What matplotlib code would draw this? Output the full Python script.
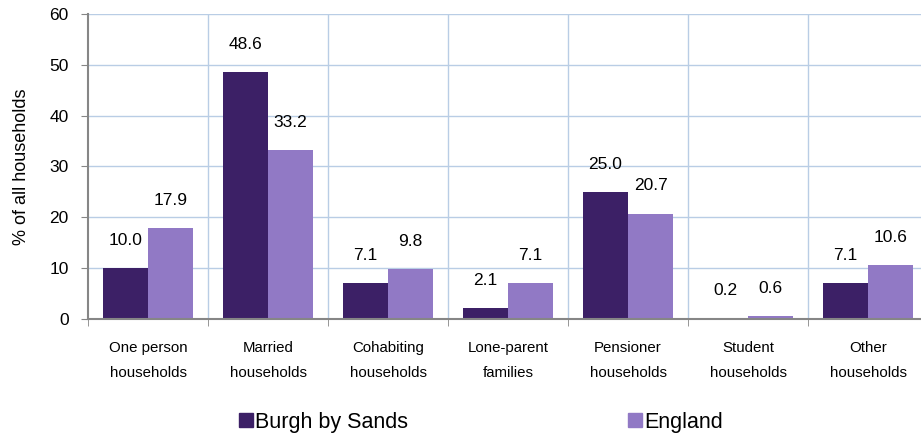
import numpy as np
import matplotlib.pyplot as plt
from matplotlib.patches import Patch

plt.rcParams['font.family'] = ['Liberation Sans', 'DejaVu Sans']

# data
categories = ['One person\nhouseholds', 'Married\nhouseholds', 'Cohabiting\nhouseholds',
              'Lone-parent\nfamilies', 'Pensioner\nhouseholds', 'Student\nhouseholds',
              'Other\nhouseholds']
burgh = [10.0, 48.6, 7.1, 2.1, 25.0, 0.2, 7.1]
england = [17.9, 33.2, 9.8, 7.1, 20.7, 0.6, 10.6]
series_names = ['Burgh by Sands', 'England']
yticks = [0, 10, 20, 30, 40, 50, 60]

dark = '#3C2066'
light = '#9179C5'
grid_c = '#B9CDE5'
axis_c = '#868686'

fig = plt.figure(figsize=(9.21, 4.36), dpi=100)
ax = fig.add_axes([88 / 921, 1 - 319 / 436, 840 / 921, 305 / 436])

x = np.arange(len(categories))
w = 0.375
b1 = ax.bar(x - w / 2, burgh, w, color=dark, zorder=3)
b2 = ax.bar(x + w / 2, england, w, color=light, zorder=3)

for bars, vals in ((b1, burgh), (b2, england)):
    for r, v in zip(bars, vals):
        ax.annotate(f'{v:.1f}', (r.get_x() + r.get_width() / 2, v),
                    xytext=(0, 20), textcoords='offset points',
                    ha='center', va='center', fontsize=12.5, color='#000000')

ax.set_xlim(-0.5, len(categories) - 0.5)
ax.set_ylim(0, 60)
ax.set_yticks(yticks)
ax.set_yticklabels([str(t) for t in yticks], fontsize=12.5)
ax.set_xticks(x)
ax.set_xticklabels(categories, fontsize=10.8, linespacing=1.95)
ax.tick_params(axis='x', length=0, pad=16)
ax.tick_params(axis='y', length=5, color=axis_c, pad=9)

# boundary ticks and vertical grid
bounds = np.arange(len(categories) + 1) - 0.5
ax.set_xticks(bounds, minor=True)
ax.tick_params(axis='x', which='minor', length=5, color=axis_c)
for b in bounds[1:]:
    ax.axvline(b, color=grid_c, lw=1, zorder=1)
for t in yticks[1:]:
    ax.axhline(t, color=grid_c, lw=1, zorder=1)

for s in ['top', 'right']:
    ax.spines[s].set_visible(False)
for s in ['left', 'bottom']:
    ax.spines[s].set_color(axis_c)
    ax.spines[s].set_linewidth(1.5)
    ax.spines[s].set_zorder(4)

ax.set_ylabel('% of all households', fontsize=13, labelpad=14)

handles = [Patch(color=dark), Patch(color=light)]
fig.legend(handles, series_names, loc='center', bbox_to_anchor=(481 / 921, 1 - 422 / 436),
           ncol=2, frameon=False, fontsize=15.5, handlelength=0.65, handleheight=0.65,
           handletextpad=0.1, columnspacing=10.2)

fig.savefig('out.png', dpi=100)
